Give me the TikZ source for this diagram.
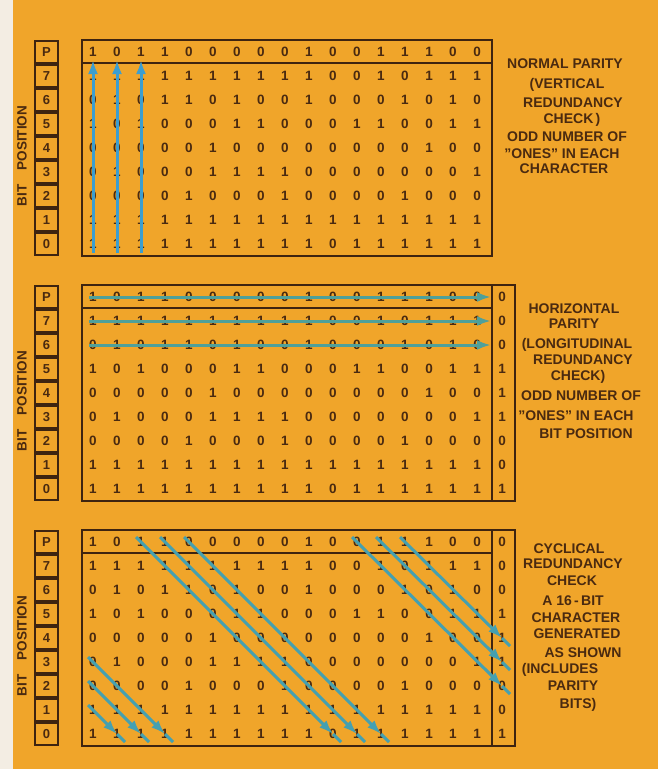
\documentclass[tikz,border=0pt]{standalone}
\usepackage{fontspec}
\setmainfont{Liberation Sans}
\usetikzlibrary{arrows.meta,calc}
\definecolor{bgorange}{HTML}{F0A52A}
\definecolor{strip}{HTML}{F3EDE3}
\definecolor{ink}{HTML}{4A2A10}
\definecolor{framec}{HTML}{3E2410}
\definecolor{arrowblue}{HTML}{3C9ED0}
\definecolor{lineteal}{HTML}{45A0B0}
\definecolor{linegreen}{HTML}{4FA09A}
\tikzset{
  digit/.style={font=\fontsize{13.5}{14}\selectfont\bfseries, text=ink, inner sep=0pt},
  labbox/.style={draw=framec, line width=1.3pt, minimum width=23pt, minimum height=22pt, inner sep=0pt,
     font=\fontsize{13}{14}\selectfont\bfseries, text=ink},
  frame/.style={draw=framec, line width=1.6pt},
  note/.style={font=\fontsize{14}{16}\selectfont\bfseries, text=ink, anchor=base, inner sep=0pt},
  side/.style={font=\fontsize{13.5}{14}\selectfont\bfseries, text=ink, rotate=90, inner sep=0pt},
  varrow/.style={draw=arrowblue, line width=3pt, -{Latex[length=14pt,width=10pt]}},
  harrow/.style={draw=linegreen, line width=3pt, -{Latex[length=14pt,width=10pt,fill=arrowblue]}},
  darrow/.style={draw=lineteal, line width=3pt, -{Latex[length=14pt,width=10pt,fill=arrowblue]}},
  dline/.style={draw=lineteal, line width=3pt},
}
\def\gridrows{{1,0,1,1,0,0,0,0,0,1,0,0,1,1,1,0,0},
{1,1,1,1,1,1,1,1,1,1,0,0,1,0,1,1,1},
{0,1,0,1,1,0,1,0,0,1,0,0,0,1,0,1,0},
{1,0,1,0,0,0,1,1,0,0,0,1,1,0,0,1,1},
{0,0,0,0,0,1,0,0,0,0,0,0,0,0,1,0,0},
{0,1,0,0,0,1,1,1,1,0,0,0,0,0,0,0,1},
{0,0,0,0,1,0,0,0,1,0,0,0,0,1,0,0,0},
{1,1,1,1,1,1,1,1,1,1,1,1,1,1,1,1,1},
{1,1,1,1,1,1,1,1,1,1,0,1,1,1,1,1,1}}
\newcommand{\dq}{\symbol{34}}
\begin{document}
\begin{tikzpicture}[x=1pt,y=-1pt]
\fill[bgorange] (0,0) rectangle (658,769);
\fill[strip] (0,0) rectangle (13,769);
\useasboundingbox (0,0) rectangle (658,769);

% panels: label boxes and data
\foreach \pan/\ptop in {t/40, m/285, b/530} {
  \foreach \lab [count=\i from 0] in {P,7,6,5,4,3,2,1,0} {
    \node[labbox] (\pan-lab-\i) at (46.5, \ptop+12+24*\i) {\lab};
  }
  \node[side] (\pan-bitpos) at (22, \ptop+116) {BIT\hspace{14pt}POSITION};
  \foreach \rowdata [count=\r from 0] in \gridrows {
    \foreach \v [count=\c] in \rowdata {
      \node[digit] (\pan-\r-\c) at (93+24*\c-24, \ptop+12+24*\r) {\v};
    }
  }
}
% parity column (middle and bottom)
\foreach \pan/\ptop in {m/285, b/530} {
  \foreach \v [count=\r from 0] in {0,0,0,1,1,1,0,0,1} {
    \node[digit] (\pan-\r-18) at (502, \ptop+12+24*\r) {\v};
  }
}

% frames
\draw[frame] (82,40) rectangle (492,256);
\draw[frame] (82,63) -- (492,63);
\foreach \ptop in {285,530} {
  \draw[frame] (82,\ptop) rectangle (515,\ptop+216);
  \draw[frame] (492,\ptop) -- (492,\ptop+216);
  \draw[frame] (82,\ptop+23) -- (492,\ptop+23);
}

% top: vertical parity arrows
\foreach \c in {1,2,3} {
  \draw[varrow] ($(t-8-\c.center)+(0,9)$) -- ($(t-0-\c.center)+(0,8)$);
}
% middle: horizontal parity arrows
\foreach \r in {0,1,2} {
  \draw[harrow] ($(m-\r-1.center)+(-4,0)$) -- ($(m-\r-18.center)+(-11,0)$);
}
% bottom: cyclic diagonal arrows
\draw[darrow] ($(b-0-3.center)+(-5,-5)$) -- (b-8-11.center);
\draw[darrow] ($(b-0-4.center)+(-5,-5)$) -- (b-8-12.center);
\draw[darrow] ($(b-0-5.center)+(-5,-5)$) -- (b-8-13.center);
\draw[darrow] ($(b-0-12.center)+(-5,-5)$) -- (b-6-18.center);
\draw[darrow] ($(b-0-13.center)+(-5,-5)$) -- (b-5-18.center);
\draw[darrow] ($(b-0-14.center)+(-5,-5)$) -- (b-4-18.center);
\draw[darrow] ($(b-5-1.center)+(-5,-5)$) -- (b-8-4.center);
\draw[darrow] ($(b-6-1.center)+(-5,-5)$) -- (b-8-3.center);
\draw[darrow] ($(b-7-1.center)+(-5,-5)$) -- (b-8-2.center);
\foreach \n in {b-8-11,b-8-12,b-8-13,b-6-18,b-5-18,b-4-18,b-8-4,b-8-3,b-8-2} {
  \draw[dline] (\n.center) -- ++(8,8);
}

% notes
\node[note] (t-n1) at (565,68) {NORMAL PARITY};
\node[note] (t-n2) at (567,88) {(VERTICAL};
\node[note] (t-n3) at (573,107) {REDUNDANCY};
\node[note] (t-n4) at (572,123) {CHECK\,)};
\node[note] (t-n5) at (567,141) {ODD NUMBER OF};
\node[note] (t-n6) at (562,158) {\dq ONES\dq\ IN EACH};
\node[note] (t-n7) at (564,173) {CHARACTER};

\node[note] (m-n1) at (574,313) {HORIZONTAL};
\node[note] (m-n2) at (574,328) {PARITY};
\node[note] (m-n3) at (577,348) {(LONGITUDINAL};
\node[note] (m-n4) at (583,364) {REDUNDANCY};
\node[note] (m-n5) at (578,380) {CHECK)};
\node[note] (m-n6) at (581,400) {ODD NUMBER OF};
\node[note] (m-n7) at (576,420) {\dq ONES\dq\ IN EACH};
\node[note] (m-n8) at (586,438) {BIT POSITION};

\node[note] (b-n1) at (569,553) {CYCLICAL};
\node[note] (b-n2) at (573,568) {REDUNDANCY};
\node[note] (b-n3) at (572,585) {CHECK};
\node[note] (b-n4) at (573,605) {A 16\,-\,BIT};
\node[note] (b-n5) at (576,622) {CHARACTER};
\node[note] (b-n6) at (577,638) {GENERATED};
\node[note] (b-n7) at (583,657) {AS SHOWN};
\node[note] (b-n8) at (560,673) {(INCLUDES};
\node[note] (b-n9) at (573,690) {PARITY};
\node[note] (b-n10) at (578,708) {BITS)};
\end{tikzpicture}
\end{document}
